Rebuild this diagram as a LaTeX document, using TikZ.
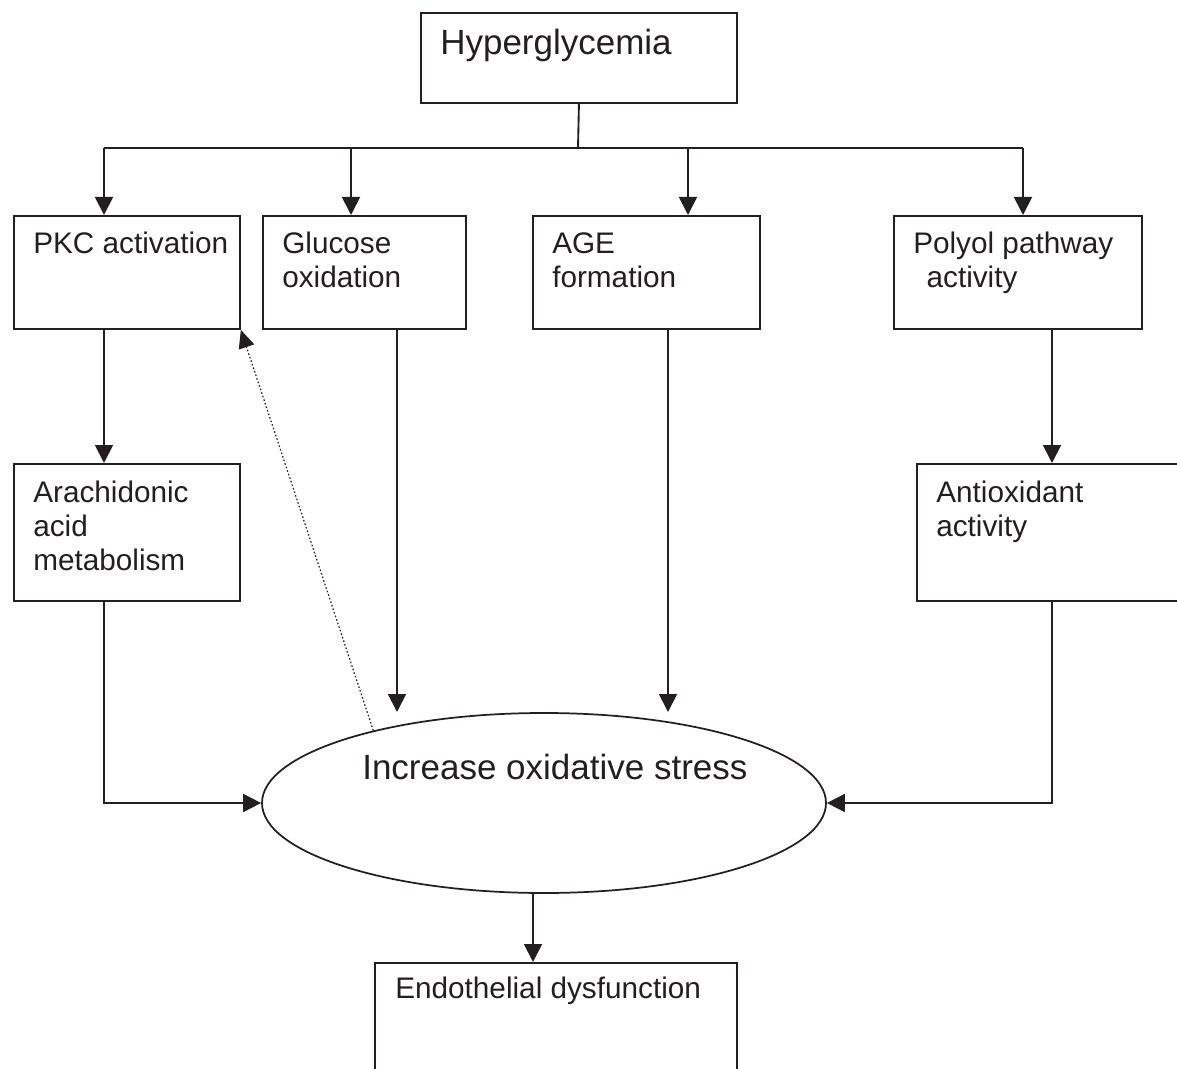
\documentclass[tikz,border=0pt]{standalone}
\usepackage{fontspec}
\setmainfont{Liberation Sans}
\usetikzlibrary{arrows.meta,shapes.geometric,calc}
\definecolor{ink}{HTML}{231F20}
\begin{document}
\begin{tikzpicture}[x=0.75pt,y=-0.75pt,
 box/.style={draw=ink, line width=1.4pt, inner sep=0pt, anchor=north west},
 txt/.style={text=ink, inner sep=0pt, align=left, font=\fontsize{22.3}{25.5}\selectfont},
 bigtxt/.style={text=ink, inner sep=0pt, font=\fontsize{26.25}{30}\selectfont},
 ln/.style={draw=ink, line width=1.4pt},
 arr/.style={draw=ink, line width=1.4pt, -{Triangle[length=13.5pt,width=13.5pt]}},
 dots/.style={draw=ink, line width=0.9pt, dash pattern=on 1.2pt off 1.6pt, -{Triangle[length=13.5pt,width=12pt]}}]
\useasboundingbox (0,0) rectangle (1177,1069);
\clip (0,0) rectangle (1177,1069);
\fill[white] (0,0) rectangle (1177,1069);

% boxes
\node[box, minimum width=316*0.75pt, minimum height=90*0.75pt] (hyper) at (420,12) {};
\node[box, minimum width=226*0.75pt, minimum height=113*0.75pt] (pkc) at (13,215) {};
\node[box, minimum width=203*0.75pt, minimum height=113*0.75pt] (gluc) at (262,215) {};
\node[box, minimum width=227*0.75pt, minimum height=113*0.75pt] (age) at (532,215) {};
\node[box, minimum width=248*0.75pt, minimum height=113*0.75pt] (poly) at (893,215) {};
\node[box, minimum width=226*0.75pt, minimum height=137*0.75pt] (arach) at (13,463) {};
\node[box, minimum width=272*0.75pt, minimum height=137*0.75pt] (anti) at (916,463) {};
\node[box, minimum width=362*0.75pt, minimum height=124*0.75pt] (endo) at (374,962) {};
\node[draw=ink, line width=1.3pt, ellipse, inner sep=0pt, minimum width=564*0.75pt, minimum height=180*0.75pt] (ell) at (544,803) {};

% texts
\node[bigtxt, anchor=base west] (hyper-t) at (440,55) {Hyperglycemia};
\node[txt, anchor=base west] (pkc-t) at (33,254) {PKC activation};
\node[txt, anchor=base west] (gluc-t) at (282,288) {Glucose\\oxidation};
\node[txt, anchor=base west] (age-t) at (552,288) {AGE\\formation};
\node[txt, anchor=base west] (poly-t) at (913,288) {Polyol pathway\\\hspace*{10pt}activity};
\node[txt, anchor=base west] (arach-t) at (33,570) {Arachidonic\\acid\\metabolism};
\node[txt, anchor=base west] (anti-t) at (936,536) {Antioxidant\\activity};
\node[bigtxt, anchor=base west] (inc-t) at (362,779) {Increase oxidative stress};
\node[txt, anchor=base west] (endo-t) at (395,998) {Endothelial dysfunction};

% connectors
\coordinate (bus) at (578,148);
\coordinate (b1) at (104,148);
\coordinate (b2) at (351,148);
\coordinate (b3) at (688,148);
\coordinate (b4) at (1023,148);
\draw[ln] (hyper.south) -- (bus);
\draw[ln] (b1) -- (b4);
\draw[arr] (b1) -- (b1 |- pkc.north);
\draw[arr] (b2) -- (b2 |- gluc.north);
\draw[arr] (b3) -- (b3 |- age.north);
\draw[arr] (b4) -- (b4 |- poly.north);

\draw[arr] (b1 |- pkc.south) -- (b1 |- arach.north);

\coordinate (gx) at (397,712);
\draw[arr] (gx |- gluc.south) -- (gx);
\coordinate (ax) at (668,712);
\draw[arr] (ax |- age.south) -- (ax);

\coordinate (px) at (1052,803);
\draw[arr] (px |- poly.south) -- (px |- anti.north);
\draw[arr] (px |- anti.south) -- (px) -- (ell.east);

\coordinate (qx) at (104,803);
\draw[arr] (qx |- arach.south) -- (qx) -- (ell.west);

\coordinate (ex) at (533,900);
\draw[arr] (ex |- ell.south) -- (ex |- endo.north);

\draw[dots] (ell.157) -- (pkc.south east);
\end{tikzpicture}
\end{document}
